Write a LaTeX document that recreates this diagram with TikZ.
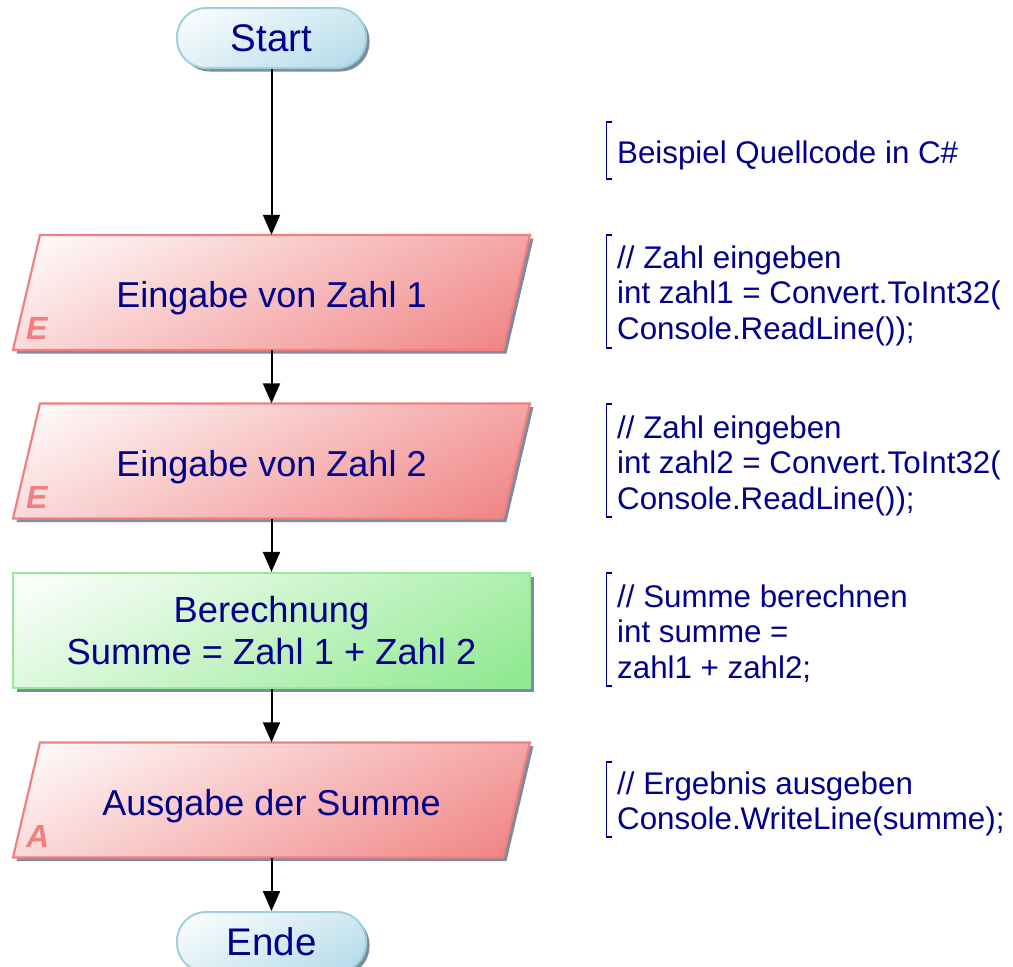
\documentclass[tikz,border=0pt]{standalone}
\usepackage{fontspec}
\setmainfont{Liberation Sans}
\usetikzlibrary{arrows.meta,shadows}
\definecolor{navy}{RGB}{0,0,139}
\definecolor{coral}{RGB}{240,128,128}
\definecolor{lgreen}{RGB}{140,232,140}
\definecolor{lgreenb}{RGB}{150,236,150}
\definecolor{lblue}{RGB}{176,218,232}
\definecolor{lblueb}{RGB}{160,208,222}
\definecolor{shadowc}{RGB}{125,140,158}
\pgfdeclareverticalshading{redgrad}{100bp}{color(0bp)=(coral); color(16bp)=(coral); color(84bp)=(white); color(100bp)=(white)}
\pgfdeclareverticalshading{greengrad}{100bp}{color(0bp)=(lgreen); color(16bp)=(lgreen); color(84bp)=(white); color(100bp)=(white)}
\pgfdeclareverticalshading{bluegrad}{100bp}{color(0bp)=(lblue); color(16bp)=(lblue); color(84bp)=(white); color(100bp)=(white)}
\newcommand\iobox[4]{%
  \path[iopath] (13,#2+57.5) -- (503,#2+57.5) -- (530,#2-57.5) -- (40,#2-57.5) -- cycle;
  \node[iotext] (#1) at (271.5,#2) {#3};
  \node[iolabel] (#1l) at (26,#2+47) {#4};
}
\begin{document}
\begin{tikzpicture}[x=1pt,y=-1pt,
  shad/.style={drop shadow={shadow xshift=3.5pt,shadow yshift=-3.5pt,fill=shadowc,opacity=1}},
  term/.style={shape=rectangle, rounded corners=29pt, minimum width=189pt, minimum height=60pt,
    draw=lblueb, line width=2pt, shade, shading=bluegrad, shading angle=28, shad,
    text=navy, font=\fontsize{38.5}{44}\selectfont, inner sep=0pt},
  iopath/.style={draw=coral, line width=2.2pt, shade, shading=redgrad, shading angle=28, shad},
  iotext/.style={minimum width=490pt, minimum height=115pt, inner sep=0pt, text=navy,
    text height=38pt, text depth=8pt, font=\fontsize{36}{42}\selectfont, align=center},
  proc/.style={draw=lgreenb, line width=2.2pt, shade, shading=greengrad, shading angle=28, shad,
    minimum width=517pt, minimum height=115pt, inner sep=0pt, text=navy,
    font=\fontsize{36.3}{42.5}\selectfont, align=center},
  iolabel/.style={text=coral, font=\fontsize{32}{32}\selectfont\bfseries\itshape, anchor=base west, inner sep=0pt},
  code/.style={anchor=north west, inner sep=0pt, text=navy, align=left, font=\fontsize{31.3}{35.5}\selectfont},
  bracket/.style={draw=navy, line width=1.5pt},
  flow/.style={draw=black, line width=2pt, -{Triangle[length=20pt,width=17pt]}},
]
\useasboundingbox (0,0) rectangle (1013,967);

\node[term] (start) at (271.5,38) {Start};
\iobox{in1}{292.5}{Eingabe von Zahl 1}{E}
\iobox{in2}{461}{Eingabe von Zahl 2}{E}
\node[proc] (calc) at (271.5,630.5) {Berechnung\\Summe = Zahl 1 + Zahl 2};
\iobox{out}{800}{Ausgabe der Summe}{A}
\node[term] (ende) at (271.5,942) {Ende};

\draw[flow] (start.south) -- (in1.north);
\draw[flow] (in1.south) -- (in2.north);
\draw[flow] (in2.south) -- (calc.north);
\draw[flow] (calc.south) -- (out.north);
\draw[flow] (out.south) -- (ende.north);

\node[code] (c0) at (617,140.5) {Beispiel Quellcode in C\#};
\node[code] (c1) at (617,245.5) {// Zahl eingeben\\int zahl1 = Convert.ToInt32(\\Console.ReadLine());};
\node[code] (c2) at (617,415.5) {// Zahl eingeben\\int zahl2 = Convert.ToInt32(\\Console.ReadLine());};
\node[code] (c3) at (617,584.5) {// Summe berechnen\\int summe =\\zahl1 + zahl2;};
\node[code] (c4) at (617,771.5) {// Ergebnis ausgeben\\Console.WriteLine(summe);};

\draw[bracket] (612,122) -- (606.5,122) -- (606.5,179) -- (612,179);
\draw[bracket] (612,235) -- (606.5,235) -- (606.5,348) -- (612,348);
\draw[bracket] (612,404) -- (606.5,404) -- (606.5,517) -- (612,517);
\draw[bracket] (612,573) -- (606.5,573) -- (606.5,686) -- (612,686);
\draw[bracket] (612,762) -- (606.5,762) -- (606.5,837) -- (612,837);
\end{tikzpicture}
\end{document}
